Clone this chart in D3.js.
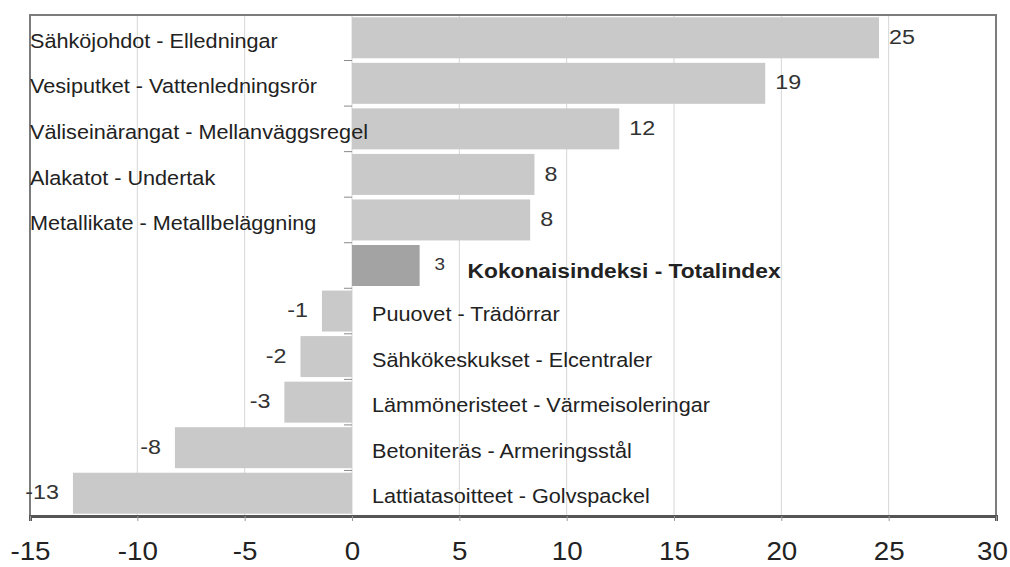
<!DOCTYPE html>
<html><head><meta charset="utf-8">
<script src="https://cdn.jsdelivr.net/npm/d3@7"></script>
<style>body{margin:0;background:#fff;}svg{display:block;font-family:"Liberation Sans",Arial,sans-serif;}</style>
</head><body><svg id="c" width="1010" height="567"></svg>
<script>
const categories = [
  "Sähköjohdot - Elledningar",
  "Vesiputket - Vattenledningsrör",
  "Väliseinärangat - Mellanväggsregel",
  "Alakatot - Undertak",
  "Metallikate - Metallbeläggning",
  "Kokonaisindeksi - Totalindex",
  "Puuovet - Trädörrar",
  "Sähkökeskukset - Elcentraler",
  "Lämmöneristeet - Värmeisoleringar",
  "Betoniteräs - Armeringsstål",
  "Lattiatasoitteet - Golvspackel"
];
const values = [24.55, 19.25, 12.45, 8.5, 8.3, 3.15, -1.4, -2.4, -3.15, -8.25, -13.0];
const valueLabels = ["25", "19", "12", "8", "8", "3", "-1", "-2", "-3", "-8", "-13"];
const totalCategory = "Kokonaisindeksi - Totalindex";
const xTicks = [-15, -10, -5, 0, 5, 10, 15, 20, 25, 30];

const SX = 1.11; // horizontal stretch of the original rendering
const svg = d3.select("#c");
const m = {left: 30, right: 996, top: 15, bottom: 516};
const x = d3.scaleLinear().domain([-15, 30]).range([m.left, m.right]);
const y = d3.scaleBand().domain(categories).range([m.top, m.bottom]).paddingInner(0.1).paddingOuter(0.05);

// gridlines
svg.append("g").selectAll("line").data(xTicks.filter(t => t > -15 && t < 30)).join("line")
  .attr("x1", d => x(d)).attr("x2", d => x(d)).attr("y1", m.top).attr("y2", m.bottom)
  .attr("stroke", "#d6d6d6").attr("stroke-width", 1);

// bars
svg.append("g").selectAll("rect").data(categories).join("rect")
  .attr("x", (d, i) => Math.min(x(0), x(values[i])))
  .attr("width", (d, i) => Math.abs(x(values[i]) - x(0)))
  .attr("y", d => y(d)).attr("height", y.bandwidth())
  .attr("fill", d => d === totalCategory ? "#a3a3a3" : "#c9c9c9");

// category axis ticks at zero (band boundaries)
const bounds = categories.slice(1).map(c => y(c) - y.step() * y.paddingInner() / 2);
bounds.unshift(m.top); bounds.push(m.bottom);
svg.append("g").selectAll("line").data(bounds).join("line")
  .attr("x1", x(0) - 8).attr("x2", x(0)).attr("y1", d => d).attr("y2", d => d)
  .attr("stroke", "#8a8a8a").attr("stroke-width", 1);

// frame
svg.append("rect").attr("x", m.left).attr("y", m.top).attr("width", m.right - m.left).attr("height", m.bottom - m.top)
  .attr("fill", "none").attr("stroke", "#7c7c7c").attr("stroke-width", 2);

// bottom axis
const xAxis = d3.axisBottom(x).tickValues(xTicks).tickSize(5).tickPadding(21).tickFormat(d => String(d));
const gx = svg.append("g").attr("transform", `translate(0,${m.bottom})`).call(xAxis);
gx.select(".domain").attr("stroke", "#555").attr("stroke-width", 3);
gx.selectAll(".tick line").attr("stroke", "#999");
gx.selectAll(".tick text").attr("fill", "#222").attr("font-size", 25)
  .attr("font-family", "Liberation Sans, Arial, sans-serif")
  .attr("transform", d => d === 30 ? `translate(-4,0) scale(${SX},1)` : `scale(${SX},1)`);

// value labels
svg.append("g").selectAll("text").data(categories).join("text")
  .attr("transform", (d, i) => {
    const tx = values[i] >= 0 ? x(values[i]) + (d === totalCategory ? 15 : 10) : x(values[i]) - 14;
    const ty = y(d) + y.bandwidth() / 2 - 1;
    return `translate(${tx},${ty}) scale(${SX},1)`;
  })
  .attr("text-anchor", (d, i) => values[i] >= 0 ? "start" : "end")
  .attr("dominant-baseline", "central")
  .attr("font-size", d => d === totalCategory ? 17 : 21)
  .attr("fill", "#333")
  .text((d, i) => valueLabels[i]);

// category labels
svg.append("g").selectAll("text").data(categories).join("text")
  .attr("transform", (d, i) => {
    const tx = d === totalCategory ? x(values[i]) + 48 : (values[i] >= 0 ? m.left : x(0) + 20);
    const ty = y(d) + y.bandwidth() / 2 + (d === totalCategory ? 5 : 3);
    return `translate(${tx},${ty}) scale(${SX},1)`;
  })
  .attr("dominant-baseline", "central")
  .attr("font-size", d => d === totalCategory ? 20.5 : 19.5)
  .attr("font-weight", d => d === totalCategory ? "bold" : "normal")
  .attr("fill", "#222")
  .text(d => d);
</script></body></html>
